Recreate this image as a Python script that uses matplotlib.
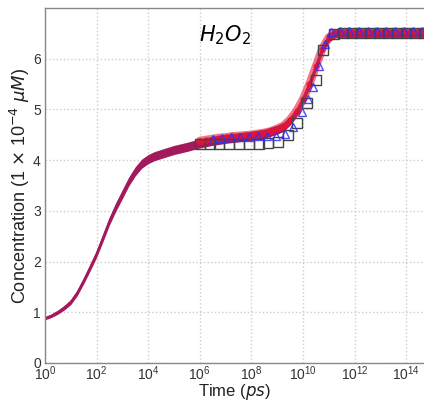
import numpy as np
import matplotlib
matplotlib.use("Agg")
import matplotlib.pyplot as plt

plt.rcParams['font.family'] = ['Liberation Sans', 'DejaVu Sans']

# Model curve (log10 of time, concentration)
model_logt = [0, 0.25, 0.5, 0.75, 1, 1.25, 1.5, 1.75, 2, 2.25, 2.5, 2.75, 3, 3.25, 3.5,
              3.75, 4, 4.25, 4.5, 5, 5.5, 6, 6.5, 7, 7.5, 8, 8.5, 9, 9.25, 9.5, 9.75,
              10, 10.25, 10.5, 10.75, 11, 11.25, 11.5, 12, 13, 14, 15]
model_conc = [0.88, 0.93, 1.0, 1.09, 1.2, 1.38, 1.62, 1.88, 2.15, 2.47, 2.8, 3.08, 3.33,
              3.58, 3.78, 3.93, 4.02, 4.08, 4.12, 4.2, 4.26, 4.33, 4.38, 4.42, 4.45, 4.48,
              4.52, 4.6, 4.66, 4.78, 4.95, 5.2, 5.5, 5.85, 6.2, 6.42, 6.5, 6.5, 6.5, 6.5,
              6.5, 6.5]
model_width = [0.03, 0.035, 0.04, 0.045, 0.05, 0.055, 0.06, 0.065, 0.07, 0.075, 0.08,
               0.085, 0.09, 0.09, 0.09, 0.09, 0.09, 0.09, 0.09, 0.09, 0.09, 0.09, 0.09,
               0.09, 0.09, 0.09, 0.09, 0.09, 0.09, 0.09, 0.09, 0.09, 0.09, 0.09, 0.09,
               0.09, 0.09, 0.09, 0.09, 0.09, 0.09, 0.09]

# Black open squares
sq_logt = [6.0, 6.38, 6.76, 7.14, 7.52, 7.9, 8.28, 8.66, 9.04, 9.42, 9.77, 10.16, 10.5,
           10.77, 11.2, 11.55, 11.9, 12.25, 12.6, 12.95, 13.3, 13.65, 14.0, 14.35, 14.7]
sq_conc = [4.32, 4.31, 4.31, 4.31, 4.31, 4.31, 4.32, 4.33, 4.36, 4.5, 4.73, 5.13, 5.58,
           6.17, 6.49, 6.5, 6.5, 6.5, 6.5, 6.5, 6.5, 6.5, 6.5, 6.5, 6.5]

# Blue open triangles
tri_logt = [6.5, 6.85, 7.2, 7.55, 7.9, 8.25, 8.6, 8.95, 9.3, 9.6, 9.96, 10.2, 10.39,
            10.6, 10.85, 11.1, 11.45, 11.8, 12.15, 12.5, 12.85, 13.2, 13.55, 13.9, 14.25,
            14.6]
tri_conc = [4.42, 4.44, 4.45, 4.46, 4.46, 4.47, 4.48, 4.47, 4.52, 4.66, 4.95, 5.2, 5.45,
            5.85, 6.3, 6.52, 6.55, 6.55, 6.55, 6.55, 6.55, 6.55, 6.55, 6.55, 6.55, 6.55]

# Red filled circles
red_logt = [6.0, 6.25, 6.5, 6.75, 7.0, 7.25, 7.5, 7.75, 8.0, 8.25, 8.5, 8.75, 9.0, 9.25,
            9.5, 9.75, 10.0, 10.25, 10.5, 10.75, 11.0, 11.25, 11.5, 11.75, 12.0, 12.25,
            12.5, 12.75, 13.0, 13.25, 13.5, 13.75, 14.0, 14.25, 14.5, 14.75]
red_conc = [4.38, 4.4, 4.42, 4.44, 4.45, 4.47, 4.48, 4.49, 4.5, 4.52, 4.54, 4.57, 4.62, 4.68,
            4.8, 4.97, 5.2, 5.5, 5.85, 6.2, 6.42, 6.5, 6.5, 6.5, 6.5, 6.5,
            6.5, 6.5, 6.5, 6.5, 6.5, 6.5, 6.5, 6.5, 6.5, 6.5]

fig = plt.figure(figsize=(4.24, 4.01), dpi=100)
ax = fig.add_axes([0.106, 0.095, 0.896, 0.885])

mt = 10.0 ** np.array(model_logt)
mc = np.array(model_conc)
mw = np.array(model_width)
ax.fill_between(mt, mc - mw, mc + mw, color='#a31a5c', lw=0, zorder=2)
ax.plot(mt, mc, color='#a31a5c', lw=1.5, zorder=2)

rt = 10.0 ** np.array(red_logt)
ax.plot(rt, red_conc, color='#e81c3a', lw=6, alpha=0.6, zorder=3, solid_capstyle='round')
ax.plot(rt, red_conc, 'o', color='#e8102e', ms=4.5, alpha=0.8, zorder=4, mec='none')

ax.plot(10.0 ** np.array(sq_logt), sq_conc, 's', mfc='none', mec='#444444', ms=6.5, mew=1.0,
        zorder=5)
ax.plot(10.0 ** np.array(tri_logt), tri_conc, '^', mfc='none', mec='#3030ee', ms=5.5, mew=1.0,
        zorder=6, alpha=0.85)

ax.set_xscale('log')
ax.set_xlim(1, 10 ** 14.72)
ax.set_ylim(0, 7)
ax.set_xticks([10.0 ** k for k in range(0, 15, 2)])
ax.set_yticks([0, 1, 2, 3, 4, 5, 6])
ax.minorticks_off()
ax.grid(True, color='#cccccc', ls=':', lw=1.0)
ax.tick_params(length=0, labelsize=10, colors='#333333')
ax.tick_params(axis='x', pad=1)
ax.tick_params(axis='y', pad=3)
for s in ax.spines.values():
    s.set_color('#888888')
    s.set_linewidth(1.0)
ax.spines['right'].set_visible(False)

ax.set_xlabel('Time ($ps$)', fontsize=12, color='#222222', va='center')
ax.xaxis.set_label_coords(0.5, -0.081)
ax.set_ylabel(r'Concentration (1 $\times$ 10$^{-4}$ $\mu M$)', fontsize=13, color='#222222',
              labelpad=1)
ax.text(0.474, 0.924, r'$H_2O_2$', transform=ax.transAxes, fontsize=15, ha='center',
        va='center')

fig.savefig('out.png', dpi=100)
